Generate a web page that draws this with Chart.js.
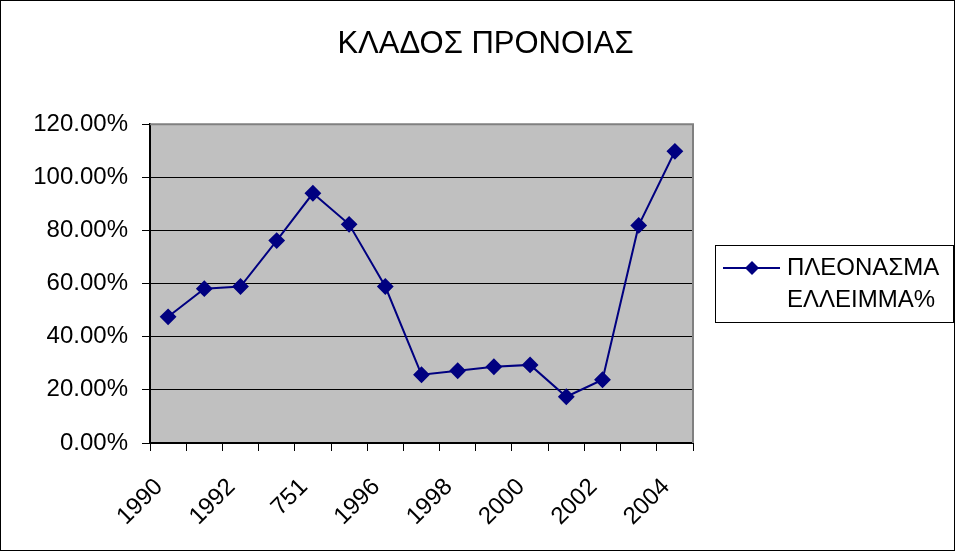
<!DOCTYPE html>
<html>
<head>
<meta charset="utf-8">
<script src="https://cdn.jsdelivr.net/npm/chart.js@4.4.0/dist/chart.umd.min.js"></script>
<style>
  html, body { margin: 0; padding: 0; background: #fff; }
  #wrap { width: 955px; height: 551px; }
</style>
</head>
<body>
<div id="wrap"><canvas id="pronoiaChart" width="955" height="551"></canvas></div>
<script>
const years = ['1990', '1991', '1992', '1993', '751', '1995', '1996', '1997',
               '1998', '1999', '2000', '2001', '2002', '2003', '2004'];
const surplusPct = [47.5, 58.1, 58.9, 76.2, 94.0, 82.3, 58.9, 25.7,
                    27.2, 28.7, 29.4, 17.4, 23.8, 81.9, 109.8];
const yTicks = [0, 20, 40, 60, 80, 100, 120];

const FONT = 'Liberation Sans, Arial, sans-serif';
const NAVY = '#000080';

// gray plot area + frame around the whole picture
const backdrop = {
    id: 'backdrop',
    beforeDraw(chart) {
        const { ctx, chartArea: a } = chart;
        ctx.save();
        ctx.fillStyle = '#C0C0C0';
        ctx.fillRect(a.left, a.top, a.right - a.left, a.bottom - a.top);
        ctx.restore();
    },
    afterDraw(chart) {
        const { ctx, chartArea: a, width, height } = chart;
        ctx.save();
        ctx.strokeStyle = '#808080';
        ctx.lineWidth = 2;
        ctx.beginPath();
        ctx.moveTo(a.left, a.top);
        ctx.lineTo(a.right, a.top);
        ctx.lineTo(a.right, a.bottom);
        ctx.stroke();
        ctx.strokeStyle = '#000';
        ctx.lineWidth = 1;
        ctx.strokeRect(0.5, 0.5, width - 1, height - 1);
        ctx.restore();
    }
};

// two-line legend box on the right
const sideLegend = {
    id: 'sideLegend',
    afterDraw(chart) {
        const { ctx, chartArea: a } = chart;
        const ds = chart.data.datasets[0];
        const x0 = a.right + 22, y0 = 245;
        ctx.save();
        ctx.fillStyle = '#fff';
        ctx.fillRect(x0, y0, 238, 77);
        ctx.strokeStyle = '#000';
        ctx.lineWidth = 1;
        ctx.strokeRect(x0 + 0.5, y0 + 0.5, 238, 77);
        ctx.strokeStyle = NAVY;
        ctx.lineWidth = 2;
        ctx.beginPath();
        ctx.moveTo(x0 + 8, y0 + 23);
        ctx.lineTo(x0 + 65, y0 + 23);
        ctx.stroke();
        ctx.fillStyle = NAVY;
        ctx.beginPath();
        const cx = x0 + 37, cy = y0 + 23;
        ctx.moveTo(cx, cy - 7); ctx.lineTo(cx + 7, cy); ctx.lineTo(cx, cy + 7); ctx.lineTo(cx - 7, cy);
        ctx.closePath();
        ctx.fill();
        ctx.fillStyle = '#000';
        ctx.font = '24px ' + FONT;
        ctx.textBaseline = 'middle';
        ctx.textAlign = 'left';
        ds.label.split(' ').forEach((line, i) => {
            ctx.fillText(line, x0 + 72, y0 + 23 + i * 32);
        });
        ctx.restore();
    }
};

new Chart(document.getElementById('pronoiaChart'), {
    type: 'line',
    data: {
        labels: years,
        datasets: [{
            label: 'ΠΛΕΟΝΑΣΜΑ ΕΛΛΕΙΜΜΑ%',
            data: surplusPct,
            borderColor: NAVY,
            backgroundColor: NAVY,
            borderWidth: 2,
            pointStyle: 'rectRot',
            pointRadius: 7,
            pointHoverRadius: 7,
            tension: 0
        }]
    },
    options: {
        responsive: false,
        animation: false,
        layout: { padding: { top: 0, right: 0, bottom: 0, left: 16 } },
        plugins: {
            legend: { display: false },
            tooltip: { enabled: false },
            title: {
                display: true,
                text: 'ΚΛΑΔΟΣ ΠΡΟΝΟΙΑΣ',
                color: '#000',
                font: { family: FONT, size: 31, weight: 'normal' },
                padding: { top: 26, bottom: 61 }
            }
        },
        scales: {
            x: {
                offset: true,
                grid: { offset: true, drawOnChartArea: false, color: '#000', tickLength: 8 },
                border: { color: '#000', width: 2 },
                ticks: {
                    autoSkip: false,
                    minRotation: 45,
                    maxRotation: 45,
                    color: '#000',
                    padding: 22,
                    labelOffset: -9,
                    font: { family: FONT, size: 24 },
                    callback: (v, i) => (i % 2 === 0 ? years[i] : '')
                },
                afterFit: s => { s.height = 108; }
            },
            y: {
                min: 0,
                max: 120,
                afterBuildTicks: s => { s.ticks = yTicks.map(v => ({ value: v })); },
                grid: { color: '#000', lineWidth: 1, tickLength: 8 },
                border: { color: '#000', width: 2 },
                ticks: {
                    color: '#000',
                    padding: 14,
                    font: { family: FONT, size: 24 },
                    callback: v => v.toFixed(2) + '%'
                },
                afterFit: s => { s.width = 134; }
            },
            // empty spacer on the right that leaves room for the legend box
            side: {
                type: 'linear',
                position: 'right',
                grid: { display: false },
                border: { display: false },
                ticks: { display: false },
                afterFit: s => { s.width = 262; }
            }
        }
    },
    plugins: [backdrop, sideLegend]
});
</script>
</body>
</html>
